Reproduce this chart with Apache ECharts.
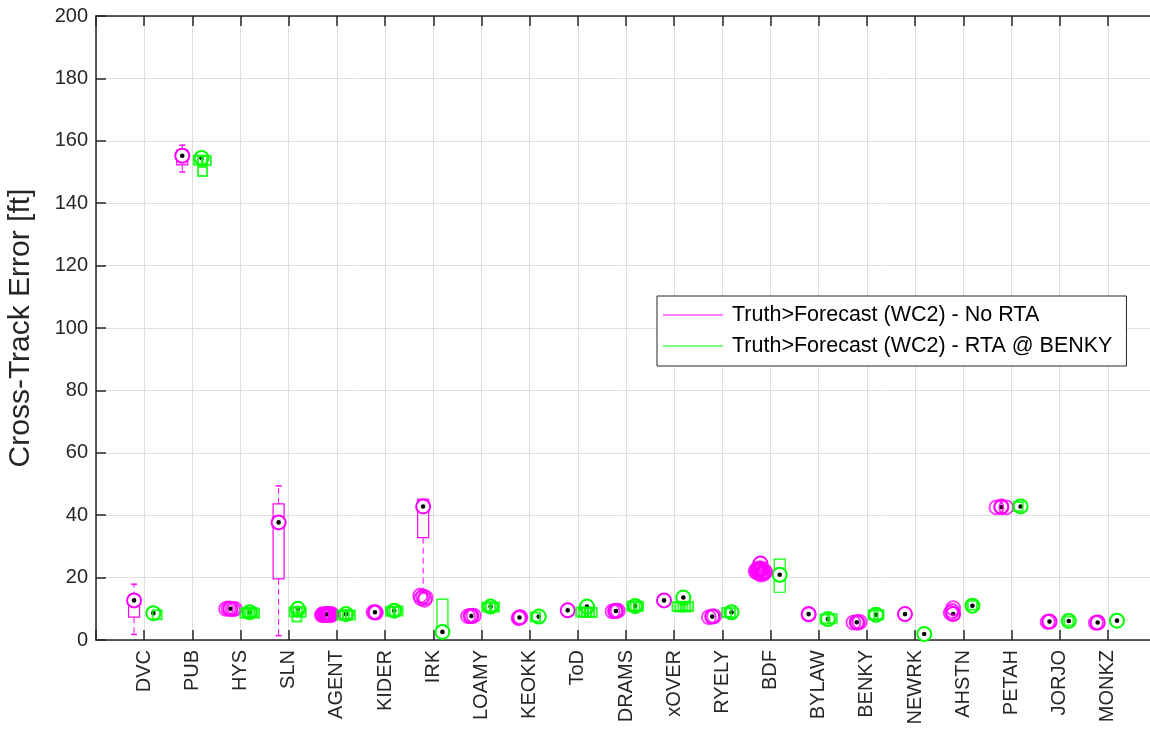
<!DOCTYPE html>
<html><head><meta charset="utf-8">
<script src="https://cdn.jsdelivr.net/npm/echarts@6/dist/echarts.min.js"></script>
<style>html,body{margin:0;padding:0;background:#fff}#c{width:1150px;height:742px}</style>
</head><body><div id="c"></div>
<script>
const categories = ['DVC','PUB','HYS','SLN','AGENT','KIDER','IRK','LOAMY','KEOKK','ToD','DRAMS','xOVER','RYELY','BDF','BYLAW','BENKY','NEWRK','AHSTN','PETAH','JORJO','MONKZ'];
const yTicks = [0,20,40,60,80,100,120,140,160,180,200];
const seriesNames = ['Truth>Forecast (WC2) - No RTA','Truth>Forecast (WC2) - RTA @ BENKY'];

// No RTA (magenta) box statistics per category
const noRtaLow  = [1.8,150.0,9.8,1.4,8.0,8.7,16.0,7.5,7.0,9.4,9.1,12.6,7.3,21.5,8.2,5.5,8.2,8.3,42.4,5.7,5.5];
const noRtaQ1   = [7.3,152.3,9.8,19.6,8.0,8.7,32.8,7.5,7.0,9.4,9.1,12.6,7.3,21.8,8.2,5.5,8.2,8.3,42.4,5.7,5.5];
const noRtaMed  = [12.7,155.2,10.0,37.7,8.2,8.9,42.8,7.7,7.2,9.5,9.3,12.7,7.5,24.5,8.3,5.7,8.3,8.3,42.6,5.9,5.6];
const noRtaQ3   = [13.6,157.0,10.2,43.6,8.4,9.1,45.2,7.9,7.4,9.7,9.5,12.8,7.7,24.8,8.5,5.9,8.4,8.8,42.8,6.1,5.8];
const noRtaHigh = [17.9,158.6,10.2,49.4,8.4,9.1,45.2,7.9,7.4,9.7,9.5,12.8,7.7,24.8,8.5,5.9,8.4,8.8,42.8,6.1,5.8];
// outliers: [category number, value, jitter]
const noRtaOutliers = [
  [3,10.0,-0.09],[3,10.1,-0.04],[3,9.9,0.05],[3,10.0,0.09],
  [5,8.0,-0.1],[5,8.3,-0.08],[5,8.1,-0.06],[5,8.2,-0.04],[5,8.4,-0.02],[5,8.0,0],[5,8.3,0.02],[5,8.1,0.04],
  [5,8.2,0.06],[5,7.9,0.08],[5,8.3,0.1],[5,8.1,-0.09],[5,8.2,0.09],[5,8.0,-0.03],[5,8.4,0.05],
  [6,8.9,-0.03],[6,8.8,0.02],
  [7,13.3,-0.04],[7,14.0,0.0],[7,13.6,0.05],[7,12.9,0.03],[7,14.2,-0.06],
  [8,7.6,-0.07],[8,7.8,0.05],[8,7.7,-0.02],
  [9,7.0,-0.02],[9,7.3,0.02],
  [11,9.2,-0.07],[11,9.4,0.04],[11,9.3,-0.02],
  [13,7.3,-0.07],[13,7.6,0.04],
  [14,22.0,-0.1],[14,22.6,-0.08],[14,21.6,-0.06],[14,22.3,-0.04],[14,21.9,-0.02],[14,22.5,0.0],[14,21.4,0.02],
  [14,22.8,0.04],[14,21.2,0.06],[14,22.1,0.08],[14,21.8,0.1],[14,22.4,-0.05],[14,21.5,0.05],[14,23.0,-0.01],[14,21.0,0.0],
  [15,8.2,0.0],
  [16,5.6,-0.07],[16,5.8,0.06],[16,5.5,0.02],
  [18,10.2,0.0],[18,8.7,-0.05],[18,9.3,-0.02],
  [19,42.5,-0.1],[19,42.8,0.0],[19,42.5,0.1],
  [20,5.8,-0.04],
  [21,5.5,-0.04]
];

// RTA @ BENKY (green) box statistics per category
const rtaLow  = [8.3,153.5,8.7,9.8,8.2,9.2,2.5,10.5,7.3,10.5,10.7,13.4,8.7,15.3,6.5,7.9,1.7,10.8,42.6,5.9,6.0];
const rtaQ1   = [8.4,153.6,8.7,9.8,8.2,9.2,2.5,10.5,7.3,10.5,10.7,13.4,8.7,15.3,6.5,7.9,1.7,10.8,42.6,5.9,6.0];
const rtaMed  = [8.6,154.5,8.9,10.0,8.3,9.4,2.6,10.7,7.5,10.7,10.9,13.6,8.9,20.9,6.7,8.1,1.9,11.0,42.8,6.1,6.2];
const rtaQ3   = [8.8,154.7,9.1,10.2,8.5,9.6,13.1,10.9,7.7,10.9,11.1,13.8,9.1,25.9,6.9,8.3,2.1,11.2,43.0,6.3,6.4];
const rtaHigh = [8.8,154.7,9.1,10.2,8.5,9.6,13.1,10.9,7.7,10.9,11.1,13.8,9.1,25.9,6.9,8.3,2.1,11.2,43.0,6.3,6.4];
const rtaOutliers = [
  [1,8.1,0.08],
  [2,153.8,-0.07],[2,153.8,0.02],[2,153.7,0.1],[2,150.2,0.02],
  [3,8.6,-0.1],[3,8.8,-0.05],[3,8.7,0.0],[3,8.8,0.05],[3,8.6,0.1],
  [4,9.0,-0.08],[4,9.2,0.0],[4,8.9,0.07],[4,7.4,-0.02],
  [5,8.0,-0.09],[5,7.9,-0.03],[5,8.1,0.03],[5,8.0,0.09],
  [6,9.2,-0.08],[6,9.1,0.0],[6,9.3,0.08],
  [8,10.6,-0.08],[8,10.5,0.0],[8,10.6,0.08],
  [9,7.4,-0.07],
  [10,9.0,-0.13],[10,8.8,-0.07],[10,9.0,-0.01],[10,8.9,0.05],[10,8.8,0.11],
  [11,10.8,-0.07],[11,10.9,0.0],[11,10.8,0.07],
  [12,10.7,-0.13],[12,10.6,-0.07],[12,10.8,-0.01],[12,10.6,0.05],[12,10.7,0.11],
  [13,8.8,-0.1],[13,8.7,-0.02],
  [15,6.7,-0.06],[15,6.8,0.09],
  [16,8.1,-0.06],[16,8.1,0.06],
  [18,11.1,0.0],
  [19,42.8,-0.05],
  [20,6.1,0.0]
];

const MAG = '#ff00ff', GRN = '#00ff00', AX = '#262626';
const FONT = '"Liberation Sans", Arial, Helvetica, sans-serif';

function rows(low,q1,med,q3,high){
  return categories.map((c,i)=>[i+1,low[i],q1[i],med[i],q3[i],high[i]]);
}

function makeRender(color, offset){
  return function(params, api){
    const x = api.value(0) + offset;
    const pLow = api.coord([x, api.value(1)]);
    const pQ1 = api.coord([x, api.value(2)]);
    const pMed = api.coord([x, api.value(3)]);
    const pQ3 = api.coord([x, api.value(4)]);
    const pHigh = api.coord([x, api.value(5)]);
    const cx = pMed[0];
    const bw = 5.5, cw = 3;
    const ch = [];
    const dash = {stroke: color, lineWidth: 1, lineDash: [6,4]};
    if (pLow[1] - pQ1[1] > 0.5) {
      ch.push({type:'line', shape:{x1:cx,y1:pQ1[1],x2:cx,y2:pLow[1]}, style:dash});
      ch.push({type:'line', shape:{x1:cx-cw,y1:pLow[1],x2:cx+cw,y2:pLow[1]}, style:{stroke:color,lineWidth:1.5}});
    }
    if (pQ3[1] - pHigh[1] > 0.5) {
      ch.push({type:'line', shape:{x1:cx,y1:pQ3[1],x2:cx,y2:pHigh[1]}, style:dash});
      ch.push({type:'line', shape:{x1:cx-cw,y1:pHigh[1],x2:cx+cw,y2:pHigh[1]}, style:{stroke:color,lineWidth:1.5}});
    }
    ch.push({type:'rect', shape:{x:cx-bw,y:pQ3[1],width:2*bw,height:Math.max(pQ1[1]-pQ3[1],1)},
      style:{stroke:color, fill:'none', lineWidth:1.2}});
    ch.push({type:'circle', shape:{cx:cx, cy:pMed[1], r:7}, style:{stroke:color, fill:'#fff', lineWidth:2}});
    ch.push({type:'circle', shape:{cx:cx, cy:pMed[1], r:2.3}, style:{fill:'#000'}});
    return {type:'group', children: ch};
  };
}

const MOFF = -0.21, GOFF = 0.19;

const chart = echarts.init(document.getElementById('c'), null, {renderer:'canvas'});
const option = {
  animation: false,
  backgroundColor: '#fff',
  textStyle: {fontFamily: FONT},
  grid: {left: 96, top: 16, right: -6, bottom: 102, containLabel: false, outerBoundsMode: 'none'},
  legend: {
    orient: 'vertical', left: 657, top: 296,
    padding: [8, 14, 9, 6], itemGap: 9,
    itemWidth: 60, itemHeight: 1,
    backgroundColor: '#fff', borderColor: AX, borderWidth: 1, borderRadius: 0,
    textStyle: {fontSize: 21.5, color: '#000', fontFamily: FONT, padding: [0,0,0,4]},
    data: [
      {name: seriesNames[0], icon: 'rect', itemStyle: {color: MAG}},
      {name: seriesNames[1], icon: 'rect', itemStyle: {color: GRN}}
    ]
  },
  xAxis: [{
    type: 'value', min: 0, max: 22, interval: 1, position: 'bottom',
    axisLine: {show: true, onZero: false, lineStyle: {color: AX, width: 1.5}},
    axisTick: {show: true, inside: true, length: 10, lineStyle: {color: AX, width: 1.5}},
    splitLine: {show: true, lineStyle: {color: '#dfdfdf', width: 1}},
    axisLabel: {rotate: 90, fontSize: 20, color: AX, margin: 10, fontFamily: FONT,
      formatter: v => categories[v-1] || ''}
  },{
    type: 'value', min: 0, max: 22, interval: 1, position: 'top',
    axisLine: {show: true, onZero: false, lineStyle: {color: AX, width: 1.5}},
    axisTick: {show: true, inside: true, length: 10, lineStyle: {color: AX, width: 1.5}},
    splitLine: {show: false}, axisLabel: {show: false}
  }],
  yAxis: {
    type: 'value', min: yTicks[0], max: yTicks[yTicks.length-1], interval: 20,
    name: 'Cross-Track Error [ft]', nameLocation: 'middle', nameGap: 60,
    nameTextStyle: {fontSize: 30, color: AX, fontFamily: FONT},
    axisLine: {show: true, onZero: false, lineStyle: {color: AX, width: 1.5}},
    axisTick: {show: true, inside: true, length: 10, lineStyle: {color: AX, width: 1.5}},
    splitLine: {show: true, lineStyle: {color: '#dfdfdf', width: 1}},
    axisLabel: {fontSize: 20, color: AX, margin: 8, fontFamily: FONT}
  },
  series: [
    {name: seriesNames[0], type: 'custom', itemStyle: {color: MAG}, z: 3,
     renderItem: makeRender(MAG, MOFF), encode: {x: 0, y: [1,2,3,4,5]},
     data: rows(noRtaLow,noRtaQ1,noRtaMed,noRtaQ3,noRtaHigh)},
    {name: seriesNames[1], type: 'custom', itemStyle: {color: GRN}, z: 3,
     renderItem: makeRender(GRN, GOFF), encode: {x: 0, y: [1,2,3,4,5]},
     data: rows(rtaLow,rtaQ1,rtaMed,rtaQ3,rtaHigh)},
    {name: seriesNames[0], type: 'scatter', z: 4, symbol: 'circle', symbolSize: 14,
     itemStyle: {color: 'rgba(0,0,0,0)', borderColor: MAG, borderWidth: 1.8},
     data: noRtaOutliers.map(o => [o[0] + MOFF + o[2], o[1]])},
    {name: seriesNames[1], type: 'scatter', z: 4, symbol: 'rect', symbolSize: 9,
     itemStyle: {color: 'rgba(0,0,0,0)', borderColor: GRN, borderWidth: 2},
     data: rtaOutliers.map(o => [o[0] + GOFF + o[2], o[1]])}
  ]
};
chart.setOption(option);
</script>
</body></html>
